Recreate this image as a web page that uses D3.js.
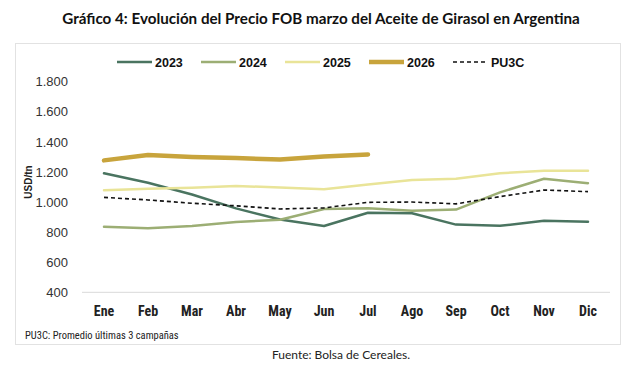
<!DOCTYPE html>
<html>
<head>
<meta charset="utf-8">
<title>Aceite de Girasol</title>
<script src="https://cdn.jsdelivr.net/npm/d3@7"></script>
<style>
  body { margin: 0; background: #fff; }
  svg { display: block; }
</style>
</head>
<body>
<div id="chart"></div>
<script>
// datos (USD/tn)
var meses = ["Ene", "Feb", "Mar", "Abr", "May", "Jun", "Jul", "Ago", "Sep", "Oct", "Nov", "Dic"];
var s2023 = [1191, 1128, 1050, 958, 884, 841, 929, 925, 850, 842, 875, 869];
var s2024 = [836, 825, 840, 868, 882, 954, 958, 942, 950, 1064, 1155, 1125];
var s2025 = [1078, 1088, 1095, 1107, 1096, 1085, 1116, 1146, 1155, 1191, 1208, 1208];
var s2026 = [1277, 1313, 1300, 1292, 1283, 1303, 1316];
var pu3c = [1031, 1014, 992, 975, 954, 961, 998, 1000, 988, 1036, 1080, 1069];
var yTicks = [400, 600, 800, 1000, 1200, 1400, 1600, 1800];

var series = [
  {name: "2023", values: s2023, color: "#4a7460", width: 2.5},
  {name: "2024", values: s2024, color: "#9cae74", width: 2.5},
  {name: "2025", values: s2025, color: "#e9e498", width: 2.5},
  {name: "2026", values: s2026, color: "#c8a43c", width: 4.5},
  {name: "PU3C", values: pu3c, color: "#111", width: 1.6, dash: "4,3"}
];

var W = 643, H = 371;
var svg = d3.select("#chart").append("svg").attr("width", W).attr("height", H);

// titulo
svg.append("text")
  .attr("x", 321).attr("y", 24)
  .attr("text-anchor", "middle")
  .style("font-family", "Lato, 'Open Sans', sans-serif")
  .style("font-weight", "bold").style("font-size", "15.2px").style("fill", "#111")
  .text("Gráfico 4: Evolución del Precio FOB marzo del Aceite de Girasol en Argentina");

// marco del grafico
svg.append("rect")
  .attr("x", 15.5).attr("y", 43.5).attr("width", 605).attr("height", 301)
  .attr("fill", "#fff").attr("stroke", "#e2e2e2");

var x = d3.scaleBand().domain(meses).range([82, 610]);
var y = d3.scaleLinear().domain([400, 1800]).range([292.3, 81.7]);

// eje y
var yAxis = d3.axisLeft(y).tickValues(yTicks).tickSize(0).tickPadding(0)
  .tickFormat(function(d) { return d3.format(",")(d).replace(",", "."); });
var gy = svg.append("g").attr("transform", "translate(68,0)").call(yAxis);
gy.select(".domain").remove();
gy.selectAll("text")
  .style("font-family", "'Liberation Sans', Arial, sans-serif")
  .style("font-size", "13px").style("fill", "#333");

// linea base
svg.append("line")
  .attr("x1", 82).attr("x2", 610)
  .attr("y1", y(400)).attr("y2", y(400))
  .attr("stroke", "#d9d9d9").attr("stroke-width", 1);

// eje x
var xAxis = d3.axisBottom(x).tickSize(0).tickPadding(0);
var gx = svg.append("g").attr("transform", "translate(0,316)").call(xAxis);
gx.select(".domain").remove();
gx.selectAll("text")
  .attr("dy", 0)
  .style("font-family", "'Liberation Sans Narrow', 'Roboto Condensed', Roboto, sans-serif")
  .style("font-weight", "bold").style("font-size", "14px").style("fill", "#222");

// titulo eje y
svg.append("text")
  .attr("transform", "translate(32,182) rotate(-90)")
  .attr("text-anchor", "middle")
  .style("font-family", "'Liberation Sans', Arial, sans-serif")
  .style("font-weight", "bold").style("font-size", "10px").style("fill", "#222")
  .text("USD/tn");

// lineas
var line = d3.line()
  .x(function(d, i) { return x(meses[i]) + x.bandwidth() / 2; })
  .y(function(d) { return y(d); });

series.forEach(function(s) {
  svg.append("path")
    .datum(s.values)
    .attr("d", line)
    .attr("fill", "none")
    .attr("stroke", s.color)
    .attr("stroke-width", s.width)
    .attr("stroke-linecap", s.dash ? "butt" : "round")
    .attr("stroke-linejoin", "round")
    .attr("stroke-dasharray", s.dash || null);
});

// leyenda
var leg = svg.append("g");
series.forEach(function(s, i) {
  var lx = 117 + i * 84;
  leg.append("line")
    .attr("x1", lx).attr("x2", lx + 35)
    .attr("y1", 62).attr("y2", 62)
    .attr("stroke", s.color)
    .attr("stroke-width", s.width)
    .attr("stroke-dasharray", s.dash || null);
  leg.append("text")
    .attr("x", lx + 38).attr("y", 66.5)
    .style("font-family", "'Liberation Sans', Arial, sans-serif")
    .style("font-weight", "bold").style("font-size", "12.5px").style("fill", "#111")
    .text(s.name);
});

// notas
svg.append("text")
  .attr("x", 25).attr("y", 339)
  .style("font-family", "'Liberation Sans Narrow', 'Roboto Condensed', Roboto, sans-serif")
  .style("font-size", "10.5px").style("fill", "#222")
  .text("PU3C: Promedio últimas 3 campañas");

svg.append("text")
  .attr("x", 341).attr("y", 359)
  .attr("text-anchor", "middle")
  .style("font-family", "Lato, 'Open Sans', sans-serif")
  .style("font-size", "12px").style("fill", "#222")
  .text("Fuente: Bolsa de Cereales.");
</script>
</body>
</html>
